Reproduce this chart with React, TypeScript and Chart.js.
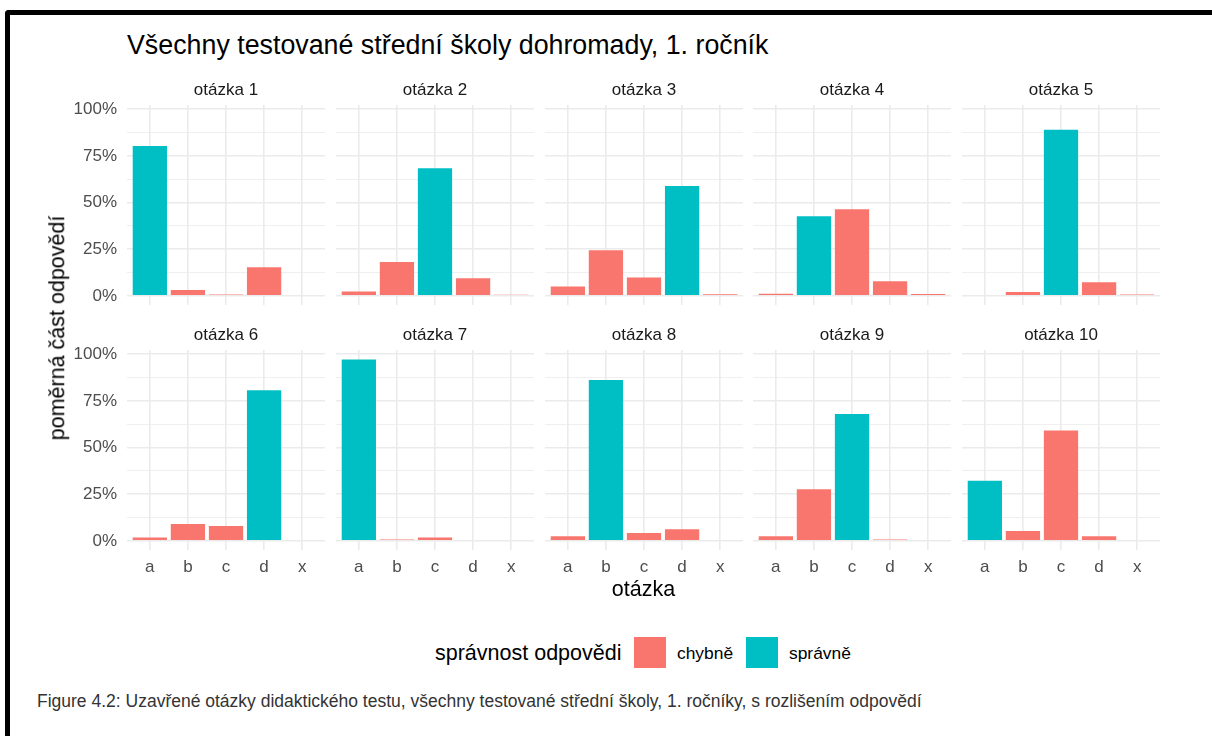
import React, { useEffect, useRef } from 'react';
import { Chart, registerables } from 'chart.js';

Chart.register(...registerables);

// ---------- data ----------
const categories = ['a', 'b', 'c', 'd', 'x'];
const questionTitles = [
  'otázka 1', 'otázka 2', 'otázka 3', 'otázka 4', 'otázka 5',
  'otázka 6', 'otázka 7', 'otázka 8', 'otázka 9', 'otázka 10',
];
const q1 = [80.3, 3.2, 0.7, 15.4, 0];
const q2 = [2.3, 18.2, 68.4, 9.5, 0.6];
const q3 = [5.0, 24.5, 9.8, 58.9, 0.9];
const q4 = [1.2, 42.7, 46.4, 7.9, 1.0];
const q5 = [0.5, 2.1, 88.9, 7.3, 0.8];
const q6 = [1.8, 9.1, 8.0, 80.6, 0];
const q7 = [97.1, 0.8, 1.8, 0, 0];
const q8 = [2.5, 86.1, 4.3, 6.2, 0.5];
const q9 = [2.5, 27.7, 68.0, 0.8, 0];
const q10 = [32.2, 5.3, 59.1, 2.5, 0];
const questionValues = [q1, q2, q3, q4, q5, q6, q7, q8, q9, q10];
const correctAnswers = ['a', 'c', 'd', 'b', 'c', 'd', 'a', 'b', 'c', 'a'];
const yMajorTicks = [0, 25, 50, 75, 100];
const yMinorTicks = [12.5, 37.5, 62.5, 87.5];
const legendLabels = ['chybně', 'správně'];

const chartTitle = 'Všechny testované střední školy dohromady, 1. ročník';
const xTitle = 'otázka';
const yTitle = 'poměrná část odpovědí';
const legendTitle = 'správnost odpovědi';
const caption =
  'Figure 4.2: Uzavřené otázky didaktického testu, všechny testované střední školy, 1. ročníky, s rozlišením odpovědí';

// ---------- style ----------
const COLOR_WRONG = '#F8766D';
const COLOR_RIGHT = '#00BFC4';
const FONT = '"Liberation Sans", Arial, Helvetica, sans-serif';
const PANEL_LEFTS = [127, 336, 545, 753, 962];
const PANEL_TOPS = [105, 350];
const PW = 198;
const PH = 200;
const AX = 60;
const PT = 30;
const XB = 36;

function Panel({ index }: { index: number }) {
  const ref = useRef<HTMLCanvasElement | null>(null);
  const row = Math.floor(index / 5);
  const col = index % 5;
  const left = PANEL_LEFTS[col] - AX;
  const top = PANEL_TOPS[row] - PT;
  const W = AX + PW;
  const H = PT + PH + XB;

  useEffect(() => {
    if (!ref.current) return;
    const values = questionValues[index];
    const colors = categories.map((c) =>
      c === correctAnswers[index] ? COLOR_RIGHT : COLOR_WRONG
    );
    const title = questionTitles[index];
    const strip = {
      id: 'strip',
      afterDraw(chart: any) {
        const { ctx, chartArea } = chart;
        ctx.save();
        ctx.font = `17px ${FONT}`;
        ctx.fillStyle = '#1A1A1A';
        ctx.textAlign = 'center';
        ctx.textBaseline = 'alphabetic';
        ctx.fillText(title, (chartArea.left + chartArea.right) / 2, chartArea.top - 10);
        ctx.restore();
      },
    };
    const allY = [...yMajorTicks, ...yMinorTicks].sort((a, b) => a - b);
    const chart = new Chart(ref.current, {
      type: 'bar',
      data: {
        datasets: [
          {
            label: title,
            data: values.map((v, i) => ({ x: i, y: v })),
            backgroundColor: colors,
            borderWidth: 0,
            barPercentage: 0.9,
            categoryPercentage: 1,
          } as any,
        ],
      },
      options: {
        animation: false,
        responsive: false,
        devicePixelRatio: 1,
        layout: { padding: { top: PT, left: 0, right: 0, bottom: 0 } },
        plugins: {
          legend: { display: false },
          tooltip: { enabled: false },
          title: { display: false },
        },
        scales: {
          x: {
            type: 'linear',
            min: -0.6,
            max: 4.6,
            offset: false,
            afterBuildTicks: (s: any) => {
              s.ticks = categories.map((_, i) => ({ value: i }));
            },
            afterFit: (s: any) => {
              s.height = XB;
            },
            grid: { color: '#EBEBEB', lineWidth: 1.6, drawTicks: false, offset: false },
            border: { display: false },
            ticks: {
              display: row === 1,
              padding: 7,
              color: '#4D4D4D',
              font: { family: FONT, size: 17 },
              autoSkip: false,
              maxRotation: 0,
              callback: (v: any) => categories[v] ?? '',
            },
          },
          y: {
            type: 'linear',
            min: -4.86,
            max: 102.2,
            afterBuildTicks: (s: any) => {
              s.ticks = allY.map((v) => ({ value: v }));
            },
            afterFit: (s: any) => {
              s.width = AX;
            },
            grid: {
              color: '#EBEBEB',
              lineWidth: (c: any) =>
                c.tick && yMajorTicks.includes(c.tick.value) ? 1.6 : 0.8,
              drawTicks: false,
            },
            border: { display: false },
            ticks: {
              display: col === 0,
              padding: 10,
              color: '#4D4D4D',
              font: { family: FONT, size: 17 },
              autoSkip: false,
              callback: (v: any) => (yMajorTicks.includes(v) ? `${v}%` : ''),
            },
          },
        } as any,
      },
      plugins: [strip],
    });
    return () => chart.destroy();
  }, [index]);

  return (
    <canvas
      ref={ref}
      width={W}
      height={H}
      style={{ position: 'absolute', left, top, width: W, height: H }}
    />
  );
}

export default function App() {
  const abs: React.CSSProperties = { position: 'absolute', whiteSpace: 'nowrap', lineHeight: 1 };
  return (
    <div
      style={{
        position: 'absolute',
        left: 0,
        top: 0,
        width: 1212,
        height: 736,
        background: '#fff',
        overflow: 'hidden',
        fontFamily: FONT,
      }}
    >
      <div
        style={{
          position: 'absolute',
          left: 5,
          top: 10,
          width: 1400,
          height: 900,
          borderTop: '5.5px solid #000',
          borderLeft: '5.5px solid #000',
          borderTopLeftRadius: 4,
          boxSizing: 'border-box',
        }}
      />
      <div style={{ ...abs, left: 127, top: 32.4, fontSize: 26.8, color: '#000' }}>{chartTitle}</div>
      {questionValues.map((_, i) => (
        <Panel key={i} index={i} />
      ))}
      <div
        style={{
          ...abs,
          left: 57.5,
          top: 327.5,
          fontSize: 21.5,
          color: '#000',
          transform: 'translate(-50%, -50%) rotate(-90deg)',
        }}
      >
        {yTitle}
      </div>
      <div
        style={{
          ...abs,
          left: 643.5,
          top: 579.1,
          fontSize: 21.5,
          color: '#000',
          transform: 'translateX(-50%)',
        }}
      >
        {xTitle}
      </div>
      <div style={{ ...abs, left: 435, top: 643.3, fontSize: 21.5, color: '#000' }}>{legendTitle}</div>
      <div style={{ position: 'absolute', left: 634, top: 637, width: 32, height: 31, background: COLOR_WRONG }} />
      <div style={{ ...abs, left: 677, top: 644.6, fontSize: 17.4, color: '#000' }}>{legendLabels[0]}</div>
      <div style={{ position: 'absolute', left: 746, top: 637, width: 32, height: 31, background: COLOR_RIGHT }} />
      <div style={{ ...abs, left: 789, top: 644.6, fontSize: 17.4, color: '#000' }}>{legendLabels[1]}</div>
      <div style={{ ...abs, left: 37, top: 692.7, fontSize: 17.5, color: '#333' }}>{caption}</div>
    </div>
  );
}
